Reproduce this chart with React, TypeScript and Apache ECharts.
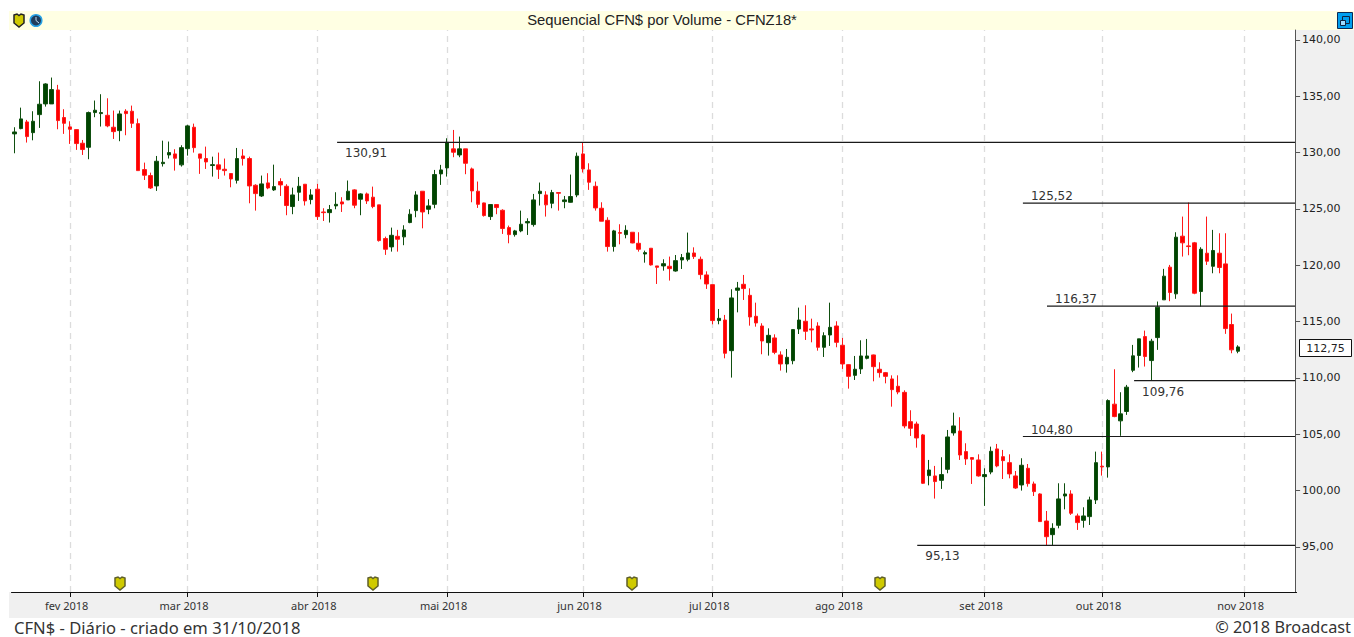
import React, { useEffect, useRef } from "react";
import * as echarts from "echarts";

const opens = [131.66,132.13,132.72,131.77,133.37,134.32,134.32,135.56,133.11,132.28,
132.04,130.83,130.47,133.55,133.46,133.31,132.25,131.95,133.67,133.67,
132.57,128.49,127.96,127.04,129.02,129.79,129.88,128.91,130.35,132.25,
129.88,129.47,128.85,128.91,128.52,128.14,127.54,129.70,129.47,127.10,
126.15,127.31,126.69,127.43,127.01,125.21,126.48,127.19,125.83,126.75,
124.73,124.67,125.27,125.62,125.80,126.69,125.86,126.33,126.04,125.36,
122.37,121.63,122.57,122.52,123.79,124.85,126.57,124.97,125.41,128.11,
128.64,130.33,129.79,130.33,128.55,126.57,125.53,124.32,125.39,124.88,
123.34,122.72,123.05,123.76,123.61,126.36,126.24,125.50,126.45,125.65,
125.59,126.24,129.88,128.46,127.01,125.06,123.99,121.66,122.90,122.72,
122.93,121.95,121.00,121.51,119.94,119.94,119.91,119.49,120.47,120.53,
121.09,120.53,119.14,118.28,115.09,115.14,112.42,117.78,118.31,117.33,
115.47,114.61,113.13,113.55,112.04,111.24,111.53,114.35,115.03,114.35,
114.61,112.72,113.81,114.61,112.90,111.18,110.23,110.80,111.74,112.04,
110.77,110.47,109.91,109.26,108.72,106.12,105.91,104.94,101.33,101.30,
100.91,101.89,105.12,105.29,103.46,102.93,102.72,101.24,101.65,103.70,
103.01,102.48,101.30,100.50,101.98,100.59,99.70,97.30,96.09,96.92,
99.52,99.70,97.75,97.36,97.69,99.17,102.16,102.10,107.67,106.19,
107.02,110.68,111.99,113.67,111.54,113.58,116.93,119.83,117.46,122.58,
121.72,121.99,117.67,121.07,119.91,121.07,120.12,114.74,112.37];
const closes = [131.83,132.99,131.42,132.78,134.29,136.09,135.59,132.84,132.60,132.07,
130.80,130.27,133.55,133.76,133.55,132.37,131.86,133.43,133.46,132.60,
128.40,127.99,126.86,129.23,129.14,130.00,129.50,130.44,132.37,130.44,
129.50,129.17,128.93,128.52,128.40,127.66,129.47,129.47,127.04,126.36,
127.22,126.86,126.98,127.13,125.30,126.24,127.01,125.71,126.24,124.32,
124.67,124.94,125.41,125.44,126.57,125.33,126.33,125.71,125.21,122.19,
121.42,122.66,122.31,123.14,124.53,126.24,124.73,125.27,128.05,128.46,
130.92,130.03,130.33,129.05,126.60,125.41,124.41,125.39,125.12,123.26,
122.72,123.05,123.64,123.88,125.80,126.57,125.36,126.45,126.39,125.80,
126.10,129.68,128.55,127.37,125.09,123.91,121.66,123.05,122.84,123.10,
121.98,121.42,121.12,120.03,119.82,120.14,119.70,120.41,120.68,121.09,
120.77,119.17,118.34,115.09,115.29,112.19,117.10,117.98,117.93,115.41,
114.88,113.28,113.78,112.27,111.24,111.83,114.29,115.14,114.14,114.26,
112.72,113.75,114.49,113.16,111.24,110.14,110.77,111.95,111.95,111.00,
110.47,110.14,108.96,108.75,105.74,105.53,104.67,100.65,101.83,100.80,
101.42,104.76,105.74,103.16,102.81,102.78,101.30,101.42,103.49,102.19,
102.66,101.48,100.23,102.25,100.62,99.91,97.25,95.91,96.65,99.26,
99.70,97.99,97.16,97.75,99.17,102.48,102.10,107.99,106.57,106.81,
109.18,111.96,113.47,111.90,113.26,116.28,119.03,117.58,122.49,121.99,
121.66,117.52,121.42,120.36,121.31,119.80,114.38,112.49,112.75];
const lows = [129.94,132.07,130.89,131.09,132.19,134.08,134.32,132.07,131.66,130.77,
130.24,129.79,129.41,133.14,132.31,132.25,131.21,131.01,131.54,132.19,
128.40,127.57,126.77,126.60,128.76,129.47,128.40,128.76,129.73,130.00,
128.11,128.55,127.87,127.66,127.96,126.92,127.25,128.85,125.50,124.85,
126.06,126.75,126.60,126.15,124.44,124.53,125.71,125.30,125.41,124.02,
123.93,123.79,124.97,124.73,125.80,125.06,124.44,125.44,125.06,122.10,
120.92,121.21,121.21,121.78,123.73,124.26,123.28,124.53,125.06,127.13,
127.87,129.59,129.59,128.08,125.59,125.09,124.32,124.02,124.53,122.78,
121.95,122.54,122.93,122.69,123.43,125.30,124.32,125.06,124.85,125.06,
125.56,126.04,128.23,126.69,124.85,123.91,121.21,121.21,121.86,122.39,
121.95,121.21,120.23,119.97,118.34,119.52,118.64,119.43,119.67,120.35,
120.56,118.75,117.90,114.76,114.76,111.74,110.03,115.82,116.92,114.64,
114.55,112.10,111.98,112.10,110.65,110.47,111.21,113.90,113.37,113.16,
112.42,111.86,112.84,112.72,110.80,109.05,109.82,110.35,111.65,109.70,
110.03,109.52,107.45,108.55,105.53,104.85,103.81,100.59,100.47,99.29,
100.15,101.54,104.88,102.72,102.28,100.59,101.24,98.64,101.45,102.07,
101.03,101.09,100.15,100.00,100.35,99.52,97.25,95.17,95.17,96.65,
98.34,97.84,96.51,96.71,96.95,98.81,101.33,101.15,106.51,104.86,
106.72,110.51,110.92,111.01,109.77,112.49,116.93,116.81,117.02,120.77,
120.89,117.43,116.33,120.03,119.29,119.29,113.91,112.19,112.19];
const highs = [132.25,133.99,132.90,133.67,136.33,136.15,136.66,136.01,133.85,132.78,
132.07,131.12,133.64,134.62,135.18,134.82,133.73,133.73,133.85,134.17,
133.02,129.11,128.22,129.70,131.06,130.98,130.30,130.65,132.46,132.57,
129.88,130.53,129.64,130.00,129.47,128.17,130.41,130.30,129.64,127.19,
127.96,128.17,128.93,127.72,127.19,126.89,127.84,127.19,126.75,127.22,
125.06,125.35,126.48,126.04,127.52,126.75,126.39,126.45,126.98,125.36,
122.54,123.34,123.14,123.55,124.97,126.57,126.57,125.86,128.46,128.91,
131.27,132.01,131.42,130.33,128.67,127.43,125.56,125.39,125.41,124.97,
123.52,123.14,124.85,124.17,126.33,127.34,126.57,126.69,126.45,126.15,
128.05,130.00,130.91,129.05,127.43,125.59,124.26,123.14,123.64,123.55,
122.93,122.93,121.30,121.51,119.94,120.53,120.77,120.91,121.00,122.90,
121.59,120.77,119.46,118.31,116.12,115.59,117.87,118.52,119.14,117.95,
116.68,114.85,114.40,113.87,112.36,112.57,114.32,116.24,116.45,115.26,
114.94,114.05,116.68,115.03,113.55,111.21,111.95,113.34,113.46,112.07,
111.39,110.53,110.23,110.23,108.90,107.13,106.12,105.03,102.72,102.19,
102.96,105.38,106.92,106.51,104.20,102.96,103.22,101.98,103.90,104.14,
103.61,103.22,101.74,102.87,102.36,100.80,99.76,98.19,97.10,100.65,
100.65,100.03,97.96,98.52,99.46,103.46,103.46,108.10,110.77,108.73,
109.38,112.93,113.47,114.20,113.47,116.78,119.68,120.03,122.93,124.32,
125.57,122.07,121.60,124.32,123.14,122.84,122.84,115.71,112.90];

const monthIndexes = [9, 28, 49, 70, 92, 113, 134, 157, 176, 199];
const monthLabels = ["fev 2018","mar 2018","abr 2018","mai 2018","jun 2018","jul 2018","ago 2018","set 2018","out 2018","nov 2018"];
const yTicks = [95,100,105,110,115,120,125,130,135,140];
const levelValues = [130.91, 125.52, 116.37, 109.76, 104.80, 95.13];
const levelStarts = [52.7, 163.7, 167.6, 181.7, 163.7, 146.6];
const levelAbove = [false, true, true, false, true, false];
const eventMarks = [120, 373, 632, 880];
const SLOTS = 208;
const lastValue = 112.75;

const categories = Array.from({ length: SLOTS }, (_, i) => {
  const m = monthIndexes.indexOf(i);
  return m >= 0 ? monthLabels[m] : String(i);
});
const candles = opens.map((o, i) => [o, closes[i], lows[i], highs[i]]);
const fmt = (v: number) => v.toFixed(2).replace(".", ",");

echarts.graphic.registerShape(
  "shield",
  echarts.graphic.extendPath("M0 1 L3 0 L5 1.5 L7 0 L10 1 L10 9 L5 13 L0 9 Z", {}) as any
);

const shield = (x: number, y: number, stroke: string) => ({
  type: "shield", x, y, z: 50,
  style: { fill: "#cfca00", stroke, lineWidth: 1.5 },
});

export default function App() {
  const ref = useRef<HTMLDivElement>(null);
  useEffect(() => {
    document.body.style.margin = "0";
    const chart = echarts.init(ref.current!, undefined, { renderer: "svg" });
    const levelSeries = levelValues.map((v, i) => ({
      type: "line",
      xAxisIndex: 1,
      yAxisIndex: 0,
      z: 5,
      symbol: "circle",
      symbolSize: 0,
      showSymbol: true,
      silent: true,
      lineStyle: { color: "#1a1a1a", width: 1.2 },
      data: [
        {
          value: [levelStarts[i], v],
          label: {
            show: true,
            formatter: fmt(v),
            position: levelAbove[i] ? [8, -13] : [8, 5],
            color: "#333",
            fontFamily: "DejaVu Sans",
            fontSize: 12,
            align: "left",
            verticalAlign: "top",
          },
        },
        { value: [SLOTS - 0.25, v], label: { show: false } },
      ],
    }));
    chart.setOption({
      animation: false,
      backgroundColor: "#ffffff",
      tooltip: { show: false },
      grid: { left: 11.5, right: 57.4, top: 30, bottom: 45, containLabel: false },
      xAxis: [
        {
          type: "category",
          data: categories,
          boundaryGap: true,
          axisLine: { show: true, onZero: false, lineStyle: { color: "#111", width: 1 } },
          axisTick: {
            show: true,
            alignWithLabel: true,
            length: 5,
            lineStyle: { color: "#111" },
            interval: (i: number) => monthIndexes.includes(i),
          },
          axisLabel: {
            show: true,
            interval: (i: number) => monthIndexes.includes(i),
            color: "#333",
            fontFamily: "Noto Sans",
            fontSize: 11,
            margin: 8,
            padding: [0, 7, 0, 0],
            hideOverlap: false,
          },
          splitLine: { show: false },
        },
        { type: "value", min: 0, max: SLOTS, show: false, splitLine: { show: false } },
      ],
      yAxis: {
        type: "value",
        position: "right",
        offset: -1.5,
        min: 91,
        max: 140.88,
        scale: true,
        axisLine: { show: true, onZero: false, lineStyle: { color: "#555", width: 1 } },
        axisTick: { show: true, length: 5, lineStyle: { color: "#555" }, customValues: yTicks },
        axisLabel: {
          color: "#222",
          fontFamily: "DejaVu Sans",
          fontSize: 11,
          margin: 7,
          customValues: yTicks,
          formatter: (v: number) => fmt(v),
        },
        splitLine: { show: false },
      },
      series: [
        {
          type: "candlestick",
          xAxisIndex: 0,
          yAxisIndex: 0,
          z: 3,
          barWidth: 4,
          silent: true,
          itemStyle: {
            color: "#004400",
            color0: "#ff0000",
            borderColor: "#0f4f0f",
            borderColor0: "#ff1a1a",
            borderWidth: 1,
          },
          data: candles,
          markLine: {
            silent: true,
            symbol: "none",
            z: 1,
            label: { show: false },
            lineStyle: { color: "#dcdcdc", type: [6, 5], width: 1.3 },
            data: monthIndexes.map((i) => ({ xAxis: i })),
          },
        },
        ...levelSeries,
      ],
      graphic: [
        { type: "rect", z: -5, shape: { x: 9, y: 11, width: 1345, height: 19 }, style: { fill: "#ffffe3" } },
        { type: "rect", z: -5, shape: { x: 1295, y: 30, width: 59, height: 588 }, style: { fill: "#f0f0f0" } },
        { type: "rect", z: -5, shape: { x: 9, y: 592, width: 1286, height: 26 }, style: { fill: "#f0f0f0" } },
        {
          type: "text", z: 50, x: 662, y: 20,
          style: { text: "Sequencial CFN$ por Volume - CFNZ18*", fill: "#222", font: "14.8px 'Liberation Sans'", textAlign: "center", textVerticalAlign: "middle" },
        },
        {
          type: "text", z: 50, x: 14, y: 627,
          style: { text: "CFN$ - Diário - criado em 31/10/2018", fill: "#333", font: "16.6px 'Noto Sans'", textAlign: "left", textVerticalAlign: "middle" },
        },
        {
          type: "text", z: 50, x: 1351, y: 627,
          style: { text: "© 2018 Broadcast", fill: "#333", font: "16.3px 'Noto Sans'", textAlign: "right", textVerticalAlign: "middle" },
        },
        { type: "rect", z: 50, shape: { x: 1299.5, y: 339.5, width: 52, height: 17 }, style: { fill: "#fff", stroke: "#111", lineWidth: 1 } },
        {
          type: "text", z: 51, x: 1325.5, y: 348,
          style: { text: fmt(lastValue), fill: "#222", font: "11px 'DejaVu Sans'", textAlign: "center", textVerticalAlign: "middle" },
        },
        shield(14, 14, "#222"),
        { type: "circle", z: 50, shape: { cx: 36, cy: 20.5, r: 5.8 }, style: { fill: "#1f3d5c", stroke: "#29a3e6", lineWidth: 1.5 } },
        { type: "polyline", z: 51, shape: { points: [[36, 17], [36, 20.5], [39, 23]] }, style: { stroke: "#bcdcf0", lineWidth: 1, fill: "none" } },
        ...eventMarks.map((x) => shield(x - 5, 577, "#5f5f2a")),
        { type: "rect", z: 50, shape: { x: 1337.5, y: 12.5, width: 15, height: 16 }, style: { fill: "#009fee", stroke: "#0a2a55", lineWidth: 1 } },
        { type: "rect", z: 51, shape: { x: 1342.5, y: 16.5, width: 7, height: 7 }, style: { fill: "none", stroke: "#10243f", lineWidth: 1 } },
        { type: "rect", z: 51, shape: { x: 1340.5, y: 20.5, width: 5, height: 5 }, style: { fill: "#9fdcff", stroke: "#10243f", lineWidth: 1 } },
      ],
    });
    return () => chart.dispose();
  }, []);
  return <div ref={ref} style={{ position: "absolute", left: 0, top: 0, width: 1354, height: 637 }} />;
}
